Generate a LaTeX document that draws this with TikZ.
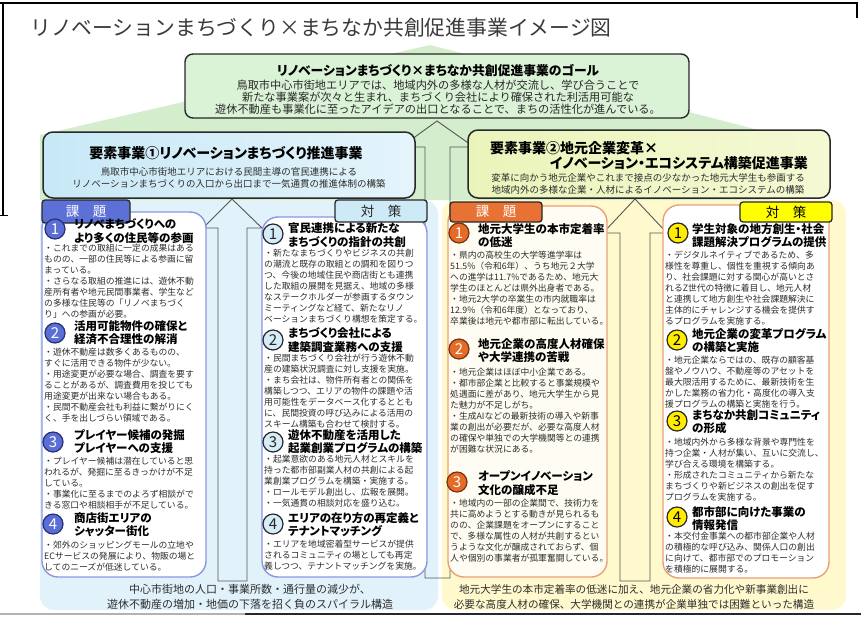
\documentclass[tikz,border=0pt]{standalone}
\usepackage{fontspec}
\setmainfont{Noto Sans CJK JP}
\newfontfamily\jp{Noto Sans CJK JP}
\newfontfamily\jpp[RawFeature=+palt]{Noto Sans CJK JP}
\usetikzlibrary{shapes.geometric}
\definecolor{greenBG}{RGB}{211,237,205}
\definecolor{goalFill}{RGB}{218,242,214}
\definecolor{hdrA}{RGB}{200,232,246}
\definecolor{hdrB}{RGB}{228,244,251}
\definecolor{hdrC}{RGB}{234,244,186}
\definecolor{hdrD}{RGB}{245,249,212}
\definecolor{panelL}{RGB}{226,242,251}
\definecolor{panelR}{RGB}{255,249,205}
\definecolor{borderL}{RGB}{140,150,225}
\definecolor{borderR}{RGB}{232,160,120}
\definecolor{tabLa}{RGB}{92,112,214}
\definecolor{tabLb}{RGB}{205,234,246}
\definecolor{tabRa}{RGB}{232,114,52}
\definecolor{tabRb}{RGB}{255,255,0}
\definecolor{circLa}{RGB}{90,110,212}
\definecolor{circLaD}{RGB}{38,48,122}
\definecolor{circLb}{RGB}{214,236,248}
\definecolor{circRa}{RGB}{228,108,40}
\definecolor{circRaD}{RGB}{120,50,15}
\definecolor{circRb}{RGB}{255,236,0}
\definecolor{txt}{RGB}{45,45,45}
\definecolor{dk}{RGB}{40,40,40}
\definecolor{titleC}{RGB}{58,58,58}
\definecolor{arrowC}{RGB}{85,85,85}
\definecolor{creamF}{RGB}{255,253,243}
\tikzset{
  bodytxt/.style={anchor=west, inner sep=0pt, align=left, text=txt, font=\jp\fontsize{8.8}{11}\selectfont},
  ttl/.style={anchor=west, inner sep=0pt, align=left, text=black, font=\jpp\bfseries\fontsize{11.5}{13.3}\selectfont},
  num/.style={circle, minimum size=20pt, inner sep=0pt, line width=1.2pt, font=\jp\fontsize{15}{15}\selectfont},
  numLa/.style={num, fill=circLa, draw=circLaD, text=white},
  numLb/.style={num, fill=circLb, draw=dk, text=dk},
  numRa/.style={num, fill=circRa, draw=circRaD, text=white},
  numRb/.style={num, fill=circRb, draw=dk, text=black},
  secbox/.style={fill=white, line width=1.4pt, rounded corners=16pt},
  tabbox/.style={rounded corners=3pt, line width=1.3pt, draw=dk, inner sep=0pt, font=\jp\fontsize{13.5}{13.5}\selectfont},
  hdr/.style={line width=1.5pt, draw=dk, rounded corners=10pt},
  uparrow/.style={draw=arrowC, line width=0.9pt},
  capt/.style={align=center, inner sep=0pt, text=txt, font=\jp\fontsize{11}{14.5}\selectfont}
}
\begin{document}
\begin{tikzpicture}[x=1pt,y=-1pt]
\useasboundingbox (0,0) rectangle (861,630);
% frame
\draw[line width=2pt, black] (0,3) -- (857,3) -- (857,18);
\draw[line width=1.4pt, black] (3,3) -- (3,215);
\draw[line width=1pt, black] (0,215) -- (8,215);
\draw[line width=1.2pt, gray!60] (0,614) -- (245,614);
\draw[line width=1.2pt, dk] (245,614) -- (861,614);
% title
\node[anchor=west, inner sep=0pt, text=titleC, font=\jp\fontsize{20.8}{22}\selectfont] (title) at (30,28) {リノベーションまちづくり×まちなか共創促進事業イメージ図};
% panels
\fill[panelL, rounded corners=14pt] (40,200) rectangle (438,610);
\fill[panelR, rounded corners=14pt] (442,200) rectangle (846,610);
% green background
\fill[greenBG] (430,45) -- (770,133) -- (770,200) -- (40,200) -- (40,135) -- cycle;
% big central arrow
\draw[uparrow] (437,121) -- (474,147) -- (450,147) -- (450,578) -- (425,578) -- (425,147) -- (401,147) -- cycle;
% middle arrows
\draw[uparrow, fill=panelL] (232,199) -- (262,228) -- (247,228) -- (247,581) -- (218,581) -- (218,228) -- (203,228) -- cycle;
\draw[uparrow, fill=panelR] (635,199) -- (667,233) -- (650,233) -- (650,581) -- (620,581) -- (620,233) -- (603,233) -- cycle;
% goal box
\draw[line width=1.4pt, draw=dk, fill=goalFill, rounded corners=8pt] (185,54) rectangle (689,118);
\node[inner sep=0pt, font=\jpp\bfseries\fontsize{12.8}{14}\selectfont] (goalT) at (438,71) {リノベーションまちづくり×まちなか共創促進事業のゴール};
\node[capt, text=dk, font=\jp\fontsize{11.2}{12}\selectfont] (goalB) at (438,97) {鳥取市中心市街地エリアでは、地域内外の多様な人材が交流し、学び合うことで\\新たな事業案が次々と生まれ、まちづくり会社により確保された利活用可能な\\遊休不動産も事業化に至ったアイデアの出口となることで、まちの活性化が進んでいる。};
% header 1
\draw[hdr, left color=hdrA, right color=hdrB] (43,132) rectangle (415,198);
\node[inner sep=0pt, font=\jpp\bfseries\fontsize{14}{16}\selectfont] (h1T) at (226,153) {要素事業①リノベーションまちづくり推進事業};
\node[capt, font=\jp\fontsize{9.5}{12}\selectfont] (h1B) at (229,178) {鳥取市中心市街地エリアにおける民間主導の官民連携による\\リノベーションまちづくりの入口から出口まで一気通貫の推進体制の構築};
% header 2
\draw[hdr, left color=hdrC, right color=hdrD] (468,130) rectangle (830,198);
\node[anchor=west, inner sep=0pt, font=\jpp\bfseries\fontsize{14}{16}\selectfont] (h2Ta) at (490,148) {要素事業②地元企業変革×};
\node[anchor=east, inner sep=0pt, font=\jpp\bfseries\fontsize{14}{16}\selectfont] (h2Tb) at (808,163) {イノベーション・エコシステム構築促進事業};
\node[capt, font=\jp\fontsize{9.5}{12}\selectfont] (h2B) at (648,184) {変革に向かう地元企業やこれまで接点の少なかった地元大学生も参画する\\地域内外の多様な企業・人材によるイノベーション・エコシステムの構築};
% section boxes
\draw[secbox, draw=borderL] (42,212) rectangle (206,577);
\draw[secbox, draw=borderL] (262,217) rectangle (427,577);
\draw[secbox, draw=borderR, fill=creamF] (448,206) rectangle (607,577);
\draw[secbox, draw=borderR] (663,205) rectangle (829,578);
% tabs
\node[tabbox, fill=tabLa, text=white, minimum width=88pt, minimum height=23pt] (tabL1) at (86,211.5) {課　題};
\node[tabbox, fill=tabLb, text=dk, minimum width=92pt, minimum height=22pt] (tabL2) at (381,211) {対　策};
\node[tabbox, fill=tabRa, text=white, minimum width=92pt, minimum height=20pt] (tabR1) at (496,212) {課　題};
\node[tabbox, fill=tabRb, text=black, minimum width=92pt, minimum height=20pt] (tabR2) at (786,212) {対　策};
% ---------- left issues ----------
\node[numLa] (la1) at (55,229) {1};
\node[ttl] (la1t) at (74,231) {リノベまちづくりへの\\より多くの住民等の参画};
\node[bodytxt] (la1b) at (44,281) {・これまでの取組に一定の成果はある\\ものの、一部の住民等による参画に留\\まっている。\\・さらなる取組の推進には、遊休不動\\産所有者や地元民間事業者、学生など\\の多様な住民等の「リノベまちづく\\り」への参画が必要。};
\node[numLa] (la2) at (55,333) {2};
\node[ttl] (la2t) at (74,332.5) {活用可能物件の確保と\\経済不合理性の解消};
\node[bodytxt] (la2b) at (44,385) {・遊休不動産は数多くあるものの、\\すぐに活用できる物件が少ない。\\・用途変更が必要な場合、調査を要す\\ることがあるが、調査費用を投じても\\用途変更が出来ない場合もある。\\・民間不動産会社も利益に繋がりにく\\く、手を出しづらい領域である。};
\node[numLa] (la3) at (53,442) {3};
\node[ttl] (la3t) at (74,441.5) {プレイヤー候補の発掘\\プレイヤーへの支援};
\node[bodytxt] (la3b) at (44,483) {・プレイヤー候補は潜在していると思\\われるが、発掘に至るきっかけが不足\\している。\\・事業化に至るまでのよろず相談がで\\きる窓口や相談相手が不足している。};
\node[numLa] (la4) at (53,524) {4};
\node[ttl] (la4t) at (74,524.5) {商店街エリアの\\シャッター街化};
\node[bodytxt] (la4b) at (44,556) {・郊外のショッピングモールの立地や\\ECサービスの発展により、物販の場と\\してのニーズが低迷している。};
% ---------- left measures ----------
\node[numLb] (lb1) at (273,234) {1};
\node[ttl] (lb1t) at (288,235) {官民連携による新たな\\まちづくりの指針の共創};
\node[bodytxt] (lb1b) at (264,286) {・新たなまちづくりやビジネスの共創\\の潮流と既存の取組との調和を図りつ\\つ、今後の地域住民や商店街とも連携\\した取組の展開を見据え、地域の多様\\なステークホルダーが参画するタウン\\ミーティングなど経て、新たなリノ\\ベーションまちづくり構想を策定する。};
\node[numLb] (lb2) at (273,340) {2};
\node[ttl] (lb2t) at (288,340) {まちづくり会社による\\建築調査業務への支援};
\node[bodytxt] (lb2b) at (264,391) {・民間まちづくり会社が行う遊休不動\\産の建築状況調査に対し支援を実施。\\・まち会社は、物件所有者との関係を\\構築しつつ、エリアの物件の課題や活\\用可能性をデータベース化するととも\\に、民間投資の呼び込みによる活用の\\スキーム構築も合わせて検討する。};
\node[numLb] (lb3) at (273,442) {3};
\node[ttl] (lb3t) at (288,441.5) {遊休不動産を活用した\\起業創業プログラムの構築};
\node[bodytxt] (lb3b) at (264,481) {・起業意欲のある地元人材とスキルを\\持った都市部副業人材の共創による起\\業創業プログラムを構築・実施する。\\・ロールモデル創出し、広報を展開。\\・一気通貫の相談対応を盛り込む。};
\node[numLb] (lb4) at (273,524) {4};
\node[ttl] (lb4t) at (288,524.5) {エリアの在り方の再定義と\\テナントマッチング};
\node[bodytxt] (lb4b) at (264,555) {・エリアを地域密着型サービスが提供\\されるコミュニティの場としても再定\\義しつつ、テナントマッチングを実施。};
% ---------- right issues ----------
\node[numRa] (ra1) at (459,233) {1};
\node[ttl] (ra1t) at (478,235.5) {地元大学生の本市定着率\\の低迷};
\node[bodytxt] (ra1b) at (450,288) {・県内の高校生の大学等進学率は\\51.5\%（令和6年）、うち地元２大学\\への進学は11.7\%であるため、地元大\\学生のほとんどは県外出身者である。\\・地元2大学の卒業生の市内就職率は\\12.9\%（令和6年度）となっており、\\卒業後は地元や都市部に転出している。};
\node[numRa] (ra2) at (459,349) {2};
\node[ttl] (ra2t) at (478,350.5) {地元企業の高度人材確保\\や大学連携の苦戦};
\node[bodytxt] (ra2b) at (450,410.5) {・地元企業はほぼ中小企業である。\\・都市部企業と比較すると事業規模や\\処遇面に差があり、地元大学生から見\\た魅力が不足しがち。\\・生成AIなどの最新技術の導入や新事\\業の創出が必要だが、必要な高度人材\\の確保や単独での大学機関等との連携\\が困難な状況にある。};
\node[numRa] (ra3) at (457,482) {3};
\node[ttl] (ra3t) at (478,483) {オープンイノベーション\\文化の醸成不足};
\node[bodytxt] (ra3b) at (450,530.5) {・地域内の一部の企業間で、技術力を\\共に高めようとする動きが見られるも\\のの、企業課題をオープンにすること\\で、多様な属性の人材が共創するとい\\うような文化が醸成されておらず、個\\人や個別の事業者が孤軍奮闘している。};
% ---------- right measures ----------
\node[numRb] (rb1) at (678,233) {1};
\node[ttl] (rb1t) at (692,235.5) {学生対象の地方創生・社会\\課題解決プログラムの提供};
\node[bodytxt] (rb1b) at (665,288) {・デジタルネイティブであるため、多\\様性を尊重し、個性を重視する傾向あ\\り、社会課題に対する関心が高いとさ\\れるZ世代の特徴に着目し、地元人材\\と連携して地方創生や社会課題解決に\\主体的にチャレンジする機会を提供す\\るプログラムを実施する。};
\node[numRb] (rb2) at (677,340) {2};
\node[ttl] (rb2t) at (692,340.5) {地元企業の変革プログラム\\の構築と実施};
\node[bodytxt] (rb2b) at (665,382) {・地元企業ならではの、既存の顧客基\\盤やノウハウ、不動産等のアセットを\\最大限活用するために、最新技術を生\\かした業務の省力化・高度化の導入支\\援プログラムの構築と実施を行う。};
\node[numRb] (rb3) at (677,421) {3};
\node[ttl] (rb3t) at (692,421.5) {まちなか共創コミュニティ\\の形成};
\node[bodytxt] (rb3b) at (665,469.5) {・地域内外から多様な背景や専門性を\\持つ企業・人材が集い、互いに交流し、\\学び合える環境を構築する。\\・形成されたコミュニティから新たな\\まちづくりや新ビジネスの創出を促す\\プログラムを実施する。};
\node[numRb] (rb4) at (677,517) {4};
\node[ttl] (rb4t) at (692,518.5) {都市部に向けた事業の\\情報発信};
\node[bodytxt] (rb4b) at (665,552.5) {・本交付金事業への都市部企業や人材\\の積極的な呼び込み、関係人口の創出\\に向けて、都市部でのプロモーション\\を積極的に展開する。};
% captions
\node[capt] (captL) at (250,597) {中心市街地の人口・事業所数・通行量の減少が、\\遊休不動産の増加・地価の下落を招く負のスパイラル構造};
\node[capt, font=\jp\fontsize{10.6}{14.5}\selectfont] (captR) at (634,597) {地元大学生の本市定着率の低迷に加え、地元企業の省力化や新事業創出に\\必要な高度人材の確保、大学機関との連携が企業単独では困難といった構造};
\end{tikzpicture}
\end{document}
